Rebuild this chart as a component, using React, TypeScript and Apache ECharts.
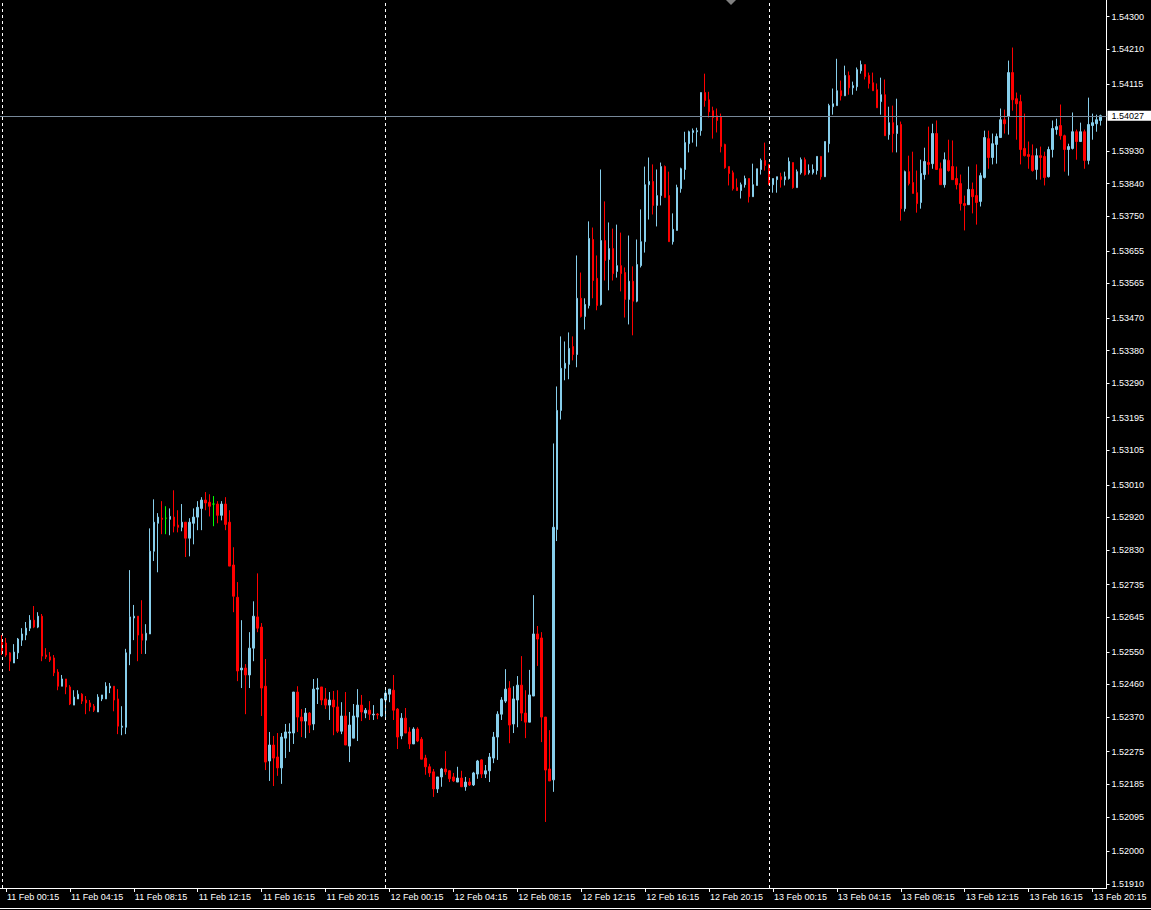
import React, { useEffect, useRef } from "react";
import * as echarts from "echarts";

// EURUSD-like M15 bars, 11 Feb 00:00 .. 13 Feb 20:45
const opens = [
1.52576,1.52574,1.52547,1.52519,1.52547,1.52582,1.52596,1.52615,1.52637,1.52618,
1.52648,1.52541,1.52536,1.52533,1.52494,1.52455,1.52475,1.52453,1.52403,1.52420,
1.52433,1.52417,1.52409,1.52400,1.52384,1.52420,1.52420,1.52450,1.52455,1.52420,
1.52342,1.52342,1.52544,1.52643,1.52648,1.52599,1.52582,1.52599,1.52827,1.52904,
1.52918,1.52918,1.52915,1.52921,1.52899,1.52893,1.52907,1.52863,1.52904,1.52921,
1.52945,1.52968,1.52962,1.52957,1.52957,1.52926,1.52957,1.52907,1.52789,1.52700,
1.52500,1.52505,1.52486,1.52560,1.52646,1.52618,1.52455,1.52249,1.52293,1.52260,
1.52230,1.52312,1.52326,1.52326,1.52439,1.52370,1.52359,1.52381,1.52351,1.52447,
1.52453,1.52420,1.52403,1.52417,1.52398,1.52331,1.52373,1.52290,1.52312,1.52370,
1.52403,1.52381,1.52389,1.52376,1.52378,1.52373,1.52417,1.52433,1.52444,1.52392,
1.52318,1.52367,1.52329,1.52296,1.52337,1.52309,1.52257,1.52233,1.52219,1.52172,
1.52205,1.52227,1.52222,1.52205,1.52191,1.52202,1.52178,1.52191,1.52183,1.52213,
1.52252,1.52213,1.52222,1.52257,1.52315,1.52378,1.52414,1.52450,1.52351,1.52417,
1.52458,1.52381,1.52356,1.52428,1.52599,1.52588,1.52370,1.52227,1.52197,1.52887,
1.53215,1.53331,1.53342,1.53391,1.53369,1.53524,1.53474,1.53504,1.53686,1.53579,
1.53507,1.53683,1.53631,1.53661,1.53598,1.53614,1.53595,1.53521,1.53571,1.53516,
1.53614,1.53680,1.53837,1.53846,1.53780,1.53807,1.53887,1.53807,1.53680,1.53711,
1.53826,1.53879,1.53950,1.53981,1.53983,1.53986,1.54091,1.54071,1.54041,1.54027,
1.54025,1.53948,1.53887,1.53870,1.53829,1.53821,1.53837,1.53854,1.53804,1.53835,
1.53879,1.53904,1.53893,1.53837,1.53851,1.53859,1.53851,1.53854,1.53898,1.53829,
1.53870,1.53906,1.53870,1.53870,1.53876,1.53915,1.53859,1.53950,1.54052,1.54055,
1.54096,1.54082,1.54138,1.54104,1.54107,1.54151,1.54168,1.54138,1.54118,1.54099,
1.54066,1.54085,1.53975,1.54008,1.53978,1.54003,1.53771,1.53873,1.53843,1.53815,
1.53788,1.53865,1.53898,1.53895,1.53978,1.53881,1.53837,1.53904,1.53887,1.53854,
1.53840,1.53785,1.53782,1.53824,1.53807,1.53791,1.53857,1.53964,1.53912,1.53948,
1.53967,1.54016,1.54025,1.54146,1.54074,1.54066,1.53937,1.53920,1.53917,1.53879,
1.53917,1.53915,1.53859,1.53934,1.53989,1.54000,1.53972,1.53934,1.53937,1.53983,
1.53956,1.53983,1.53904,1.54000,1.54005,1.54014
];

const closes = [
1.52549,1.52541,1.52524,1.52549,1.52585,1.52599,1.52615,1.52637,1.52618,1.52648,
1.52538,1.52536,1.52527,1.52492,1.52455,1.52475,1.52453,1.52406,1.52425,1.52433,
1.52414,1.52409,1.52398,1.52389,1.52425,1.52431,1.52455,1.52455,1.52417,1.52345,
1.52345,1.52547,1.52646,1.52648,1.52596,1.52582,1.52601,1.52827,1.52907,1.52921,
1.52915,1.52918,1.52923,1.52896,1.52893,1.52907,1.52863,1.52907,1.52921,1.52948,
1.52968,1.52960,1.52951,1.52957,1.52926,1.52957,1.52901,1.52786,1.52703,1.52497,
1.52505,1.52486,1.52560,1.52648,1.52615,1.52450,1.52246,1.52293,1.52257,1.52230,
1.52315,1.52329,1.52329,1.52439,1.52370,1.52359,1.52381,1.52348,1.52447,1.52450,
1.52417,1.52403,1.52417,1.52398,1.52331,1.52373,1.52293,1.52348,1.52373,1.52403,
1.52384,1.52389,1.52378,1.52378,1.52376,1.52420,1.52436,1.52447,1.52389,1.52315,
1.52367,1.52326,1.52296,1.52337,1.52304,1.52254,1.52233,1.52216,1.52172,1.52205,
1.52227,1.52219,1.52200,1.52194,1.52202,1.52178,1.52191,1.52183,1.52216,1.52249,
1.52213,1.52222,1.52260,1.52315,1.52378,1.52417,1.52447,1.52348,1.52420,1.52458,
1.52381,1.52356,1.52431,1.52599,1.52585,1.52370,1.52224,1.52194,1.52893,1.53215,
1.53331,1.53345,1.53386,1.53369,1.53524,1.53474,1.53507,1.53689,1.53573,1.53504,
1.53683,1.53628,1.53661,1.53592,1.53614,1.53592,1.53521,1.53571,1.53516,1.53617,
1.53680,1.53837,1.53846,1.53780,1.53807,1.53887,1.53802,1.53680,1.53714,1.53829,
1.53881,1.53953,1.53983,1.53986,1.53986,1.54091,1.54069,1.54038,1.54022,1.54014,
1.53942,1.53884,1.53868,1.53826,1.53821,1.53837,1.53854,1.53804,1.53837,1.53881,
1.53904,1.53890,1.53837,1.53854,1.53859,1.53851,1.53859,1.53901,1.53829,1.53873,
1.53906,1.53865,1.53876,1.53879,1.53915,1.53859,1.53956,1.54055,1.54060,1.54096,
1.54082,1.54138,1.54104,1.54110,1.54154,1.54168,1.54135,1.54116,1.54096,1.54049,
1.54085,1.53972,1.54008,1.53978,1.54000,1.53771,1.53873,1.53840,1.53813,1.53785,
1.53868,1.53901,1.53893,1.53978,1.53879,1.53837,1.53906,1.53876,1.53851,1.53837,
1.53785,1.53780,1.53824,1.53804,1.53788,1.53862,1.53967,1.53912,1.53950,1.53970,
1.54016,1.54005,1.54146,1.54071,1.54060,1.53934,1.53917,1.53915,1.53876,1.53917,
1.53912,1.53857,1.53934,1.53992,1.53997,1.53972,1.53934,1.53942,1.53983,1.53956,
1.53983,1.53904,1.54003,1.54008,1.54016,1.54027
];

const lows = [
1.52541,1.52536,1.52497,1.52519,1.52530,1.52566,1.52582,1.52607,1.52615,1.52615,
1.52524,1.52530,1.52522,1.52483,1.52444,1.52455,1.52433,1.52403,1.52403,1.52420,
1.52406,1.52378,1.52386,1.52384,1.52384,1.52414,1.52420,1.52436,1.52386,1.52323,
1.52320,1.52323,1.52513,1.52582,1.52524,1.52544,1.52544,1.52599,1.52800,1.52769,
1.52874,1.52874,1.52871,1.52879,1.52879,1.52882,1.52811,1.52813,1.52846,1.52885,
1.52885,1.52940,1.52923,1.52896,1.52904,1.52912,1.52885,1.52786,1.52659,1.52469,
1.52450,1.52378,1.52450,1.52524,1.52604,1.52373,1.52224,1.52194,1.52180,1.52208,
1.52186,1.52257,1.52274,1.52296,1.52329,1.52315,1.52312,1.52326,1.52334,1.52406,
1.52403,1.52392,1.52362,1.52320,1.52326,1.52323,1.52293,1.52246,1.52312,1.52304,
1.52359,1.52367,1.52362,1.52362,1.52364,1.52370,1.52367,1.52411,1.52362,1.52282,
1.52309,1.52326,1.52282,1.52296,1.52301,1.52254,1.52211,1.52205,1.52150,1.52161,
1.52178,1.52211,1.52191,1.52191,1.52191,1.52178,1.52167,1.52180,1.52180,1.52200,
1.52202,1.52202,1.52191,1.52243,1.52252,1.52362,1.52409,1.52298,1.52326,1.52342,
1.52359,1.52312,1.52356,1.52428,1.52511,1.52301,1.52081,1.52194,1.52164,1.52855,
1.53190,1.53298,1.53301,1.53353,1.53334,1.53471,1.53438,1.53496,1.53524,1.53491,
1.53504,1.53573,1.53546,1.53573,1.53581,1.53543,1.53471,1.53452,1.53422,1.53513,
1.53609,1.53650,1.53741,1.53755,1.53722,1.53780,1.53802,1.53680,1.53672,1.53711,
1.53815,1.53851,1.53926,1.53953,1.53942,1.53972,1.54052,1.54022,1.53964,1.53981,
1.53926,1.53881,1.53835,1.53821,1.53821,1.53799,1.53829,1.53788,1.53804,1.53835,
1.53865,1.53876,1.53837,1.53815,1.53815,1.53829,1.53835,1.53851,1.53826,1.53829,
1.53865,1.53862,1.53865,1.53865,1.53865,1.53851,1.53859,1.53926,1.54030,1.54055,
1.54069,1.54082,1.54085,1.54085,1.54096,1.54143,1.54127,1.54102,1.54096,1.54049,
1.54030,1.53972,1.53961,1.53926,1.53926,1.53738,1.53763,1.53835,1.53813,1.53760,
1.53771,1.53851,1.53865,1.53881,1.53879,1.53837,1.53829,1.53873,1.53851,1.53824,
1.53766,1.53711,1.53782,1.53758,1.53727,1.53777,1.53854,1.53881,1.53893,1.53895,
1.53967,1.53978,1.53975,1.54041,1.53961,1.53893,1.53915,1.53881,1.53873,1.53851,
1.53851,1.53835,1.53857,1.53912,1.53975,1.53961,1.53873,1.53862,1.53934,1.53906,
1.53956,1.53881,1.53893,1.53961,1.53983,1.54000
];

const highs = [
1.52596,1.52588,1.52549,1.52571,1.52588,1.52615,1.52632,1.52651,1.52676,1.52659,
1.52654,1.52560,1.52549,1.52541,1.52502,1.52486,1.52475,1.52458,1.52444,1.52444,
1.52436,1.52428,1.52417,1.52406,1.52433,1.52431,1.52466,1.52464,1.52455,1.52447,
1.52400,1.52558,1.52775,1.52679,1.52648,1.52692,1.52626,1.52890,1.52970,1.52932,
1.52965,1.52951,1.52945,1.52995,1.52940,1.52957,1.52907,1.52918,1.52945,1.52965,
1.52976,1.52990,1.52984,1.52979,1.52965,1.52965,1.52976,1.52940,1.52838,1.52742,
1.52637,1.52516,1.52604,1.52689,1.52766,1.52629,1.52530,1.52329,1.52318,1.52326,
1.52326,1.52351,1.52353,1.52439,1.52455,1.52392,1.52395,1.52384,1.52475,1.52477,
1.52453,1.52450,1.52439,1.52442,1.52444,1.52411,1.52439,1.52384,1.52406,1.52447,
1.52431,1.52395,1.52414,1.52403,1.52381,1.52422,1.52444,1.52447,1.52486,1.52395,
1.52381,1.52395,1.52342,1.52342,1.52342,1.52315,1.52266,1.52241,1.52227,1.52205,
1.52230,1.52276,1.52224,1.52216,1.52233,1.52222,1.52205,1.52202,1.52219,1.52252,
1.52254,1.52238,1.52271,1.52329,1.52386,1.52425,1.52502,1.52469,1.52455,1.52483,
1.52538,1.52444,1.52500,1.52706,1.52621,1.52604,1.52370,1.52334,1.53124,1.53281,
1.53419,1.53405,1.53430,1.53419,1.53642,1.53595,1.53524,1.53736,1.53719,1.53642,
1.53879,1.53791,1.53733,1.53716,1.53727,1.53705,1.53609,1.53697,1.53612,1.53686,
1.53769,1.53887,1.53912,1.53893,1.53879,1.53898,1.53890,1.53873,1.53758,1.53837,
1.53884,1.53983,1.53986,1.53992,1.53994,1.54091,1.54143,1.54093,1.54052,1.54047,
1.54033,1.53950,1.53887,1.53876,1.53854,1.53843,1.53862,1.53854,1.53895,1.53881,
1.53909,1.53953,1.53893,1.53854,1.53859,1.53870,1.53873,1.53912,1.53898,1.53879,
1.53912,1.53912,1.53893,1.53893,1.53915,1.53915,1.53956,1.54060,1.54102,1.54184,
1.54124,1.54165,1.54149,1.54121,1.54160,1.54179,1.54168,1.54146,1.54146,1.54116,
1.54132,1.54127,1.54052,1.54055,1.54074,1.54011,1.53876,1.53917,1.53928,1.53876,
1.53906,1.53939,1.53997,1.54005,1.54014,1.53898,1.53926,1.53961,1.53959,1.53887,
1.53865,1.53807,1.53887,1.53843,1.53893,1.53870,1.53986,1.53986,1.53978,1.53978,
1.54047,1.54044,1.54179,1.54215,1.54091,1.54085,1.54033,1.53956,1.53948,1.53937,
1.53942,1.53928,1.53942,1.54014,1.54019,1.54058,1.53975,1.53950,1.54036,1.53989,
1.54008,1.53989,1.54077,1.54033,1.54030,1.54030
];

const days = ["11", "12", "13"];
const xTickLabels = [
  "11 Feb 00:15", "11 Feb 04:15", "11 Feb 08:15", "11 Feb 12:15", "11 Feb 16:15", "11 Feb 20:15",
  "12 Feb 00:15", "12 Feb 04:15", "12 Feb 08:15", "12 Feb 12:15", "12 Feb 16:15", "12 Feb 20:15",
  "13 Feb 00:15", "13 Feb 04:15", "13 Feb 08:15", "13 Feb 12:15", "13 Feb 16:15", "13 Feb 20:15",
];
const yTickLabels = [
  "1.54300", "1.54210", "1.54115", "1.53930", "1.53840", "1.53750", "1.53655", "1.53565",
  "1.53470", "1.53380", "1.53290", "1.53195", "1.53105", "1.53010", "1.52920", "1.52830",
  "1.52735", "1.52645", "1.52550", "1.52460", "1.52370", "1.52275", "1.52185", "1.52095",
  "1.52000", "1.51910",
];
const daySeparators = ["11 Feb 00:00", "12 Feb 00:00", "13 Feb 00:00"];
const currentPrice = 1.54027;
const priceMin = 1.51899;
const priceMax = 1.54346;

// 15-minute time slots (one extra empty slot at the right edge)
function buildCategories(): string[] {
  const out: string[] = [];
  for (let d = 0; d < days.length; d++) {
    for (let h = 0; h < 24; h++) {
      for (let m = 0; m < 60; m += 15) {
        out.push(`${days[d]} Feb ${String(h).padStart(2, "0")}:${String(m).padStart(2, "0")}`);
        if (out.length >= opens.length + 1) return out;
      }
    }
  }
  return out;
}

const FONT = "'Liberation Sans', Arial, sans-serif";
const BULL = "#87CEEB";
const BEAR = "#FF0000";
const DOJI = "#00FF00";

export default function App() {
  const ref = useRef<HTMLDivElement>(null);

  useEffect(() => {
    if (!ref.current) return;
    const chart = echarts.init(ref.current, null, { renderer: "svg" });
    const categories = buildCategories();
    const tickSet = new Set(xTickLabels);

    const data = opens.map((o, i) => {
      const v = [o, closes[i], lows[i], highs[i]];
      if (o === closes[i]) {
        return {
          value: v,
          itemStyle: { color: DOJI, color0: DOJI, borderColor: DOJI, borderColor0: DOJI, borderColorDoji: DOJI },
        };
      }
      return { value: v };
    });

    const option: any = {
      animation: false,
      backgroundColor: "#000000",
      grid: { left: -1.5, right: 44.5, top: 0, bottom: 22, containLabel: false },
      xAxis: {
        type: "category",
        data: categories,
        boundaryGap: true,
        axisLine: { show: true, lineStyle: { color: "#ffffff", width: 1 } },
        axisTick: {
          show: true,
          alignWithLabel: true,
          length: 4,
          interval: (idx: number, val: string) => tickSet.has(val),
          lineStyle: { color: "#ffffff" },
        },
        axisLabel: {
          show: true,
          interval: (idx: number, val: string) => tickSet.has(val),
          align: "left",
          margin: 4,
          color: "#ffffff",
          fontFamily: FONT,
          fontSize: 9,
          padding: [0, 0, 0, 1],
        },
        splitLine: { show: false },
      },
      yAxis: {
        type: "value",
        position: "right",
        min: priceMin,
        max: priceMax,
        scale: true,
        axisLine: { show: true, lineStyle: { color: "#ffffff", width: 1 } },
        axisTick: {
          show: true,
          length: 3,
          customValues: yTickLabels.map(Number),
          lineStyle: { color: "#ffffff" },
        },
        axisLabel: {
          show: true,
          customValues: yTickLabels.map(Number),
          formatter: (v: number) => v.toFixed(5),
          margin: 5,
          color: "#ffffff",
          fontFamily: FONT,
          fontSize: 9,
        },
        splitLine: { show: false },
      },
      series: [
        {
          type: "candlestick",
          data,
          barWidth: 2,
          itemStyle: {
            color: BULL,
            color0: BEAR,
            borderColor: BULL,
            borderColor0: BEAR,
            borderColorDoji: DOJI,
            borderWidth: 1,
          },
          markLine: {
            silent: true,
            symbol: ["none", "none"],
            precision: 5,
            animation: false,
            data: [
              ...daySeparators.map((d) => ({
                xAxis: d,
                lineStyle: { color: "#ffffff", type: [3, 3], width: 1 },
                label: { show: false },
              })),
              {
                yAxis: currentPrice,
                lineStyle: { color: "#778899", type: "solid", width: 1 },
                label: {
                  show: true,
                  position: "end",
                  distance: 1,
                  formatter: () => currentPrice.toFixed(5),
                  backgroundColor: "#ffffff",
                  color: "#000000",
                  fontFamily: FONT,
                  fontSize: 9,
                  lineHeight: 10,
                  padding: [0, 8, 0, 4],
                },
              },
            ],
          },
        },
      ],
      graphic: [
        {
          type: "line",
          shape: { x1: 0, y1: 908.5, x2: 1151, y2: 908.5 },
          style: { stroke: "#ffffff", lineWidth: 1 },
        },
        {
          type: "polygon",
          shape: { points: [[726, 0], [736, 0], [731, 5]] },
          style: { fill: "#808080" },
        },
      ],
    };

    chart.setOption(option);
    return () => chart.dispose();
  }, []);

  return (
    <div
      ref={ref}
      style={{ position: "fixed", left: 0, top: 0, width: 1151, height: 910, background: "#000" }}
    />
  );
}
